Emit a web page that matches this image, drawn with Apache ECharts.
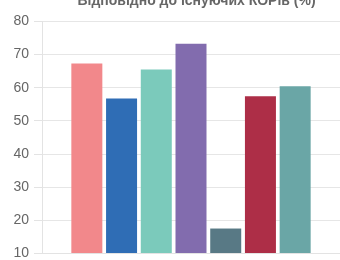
<!DOCTYPE html>
<html><head><meta charset="utf-8">
<script src="https://cdn.jsdelivr.net/npm/echarts@6/dist/echarts.min.js"></script>
<style>html,body{margin:0;padding:0;background:#fff}#c{width:340px;height:260px}</style>
</head><body><div id="c"></div>
<script>
const titleText = 'Відповідно до існуючих КОРів (%)';
const categories = [''];
const seriesNames = ['S1','S2','S3','S4','S5','S6','S7'];
const seriesValues = [67.3, 56.7, 65.5, 73.3, 17.4, 57.4, 60.4];
const seriesColors = ['#f2888b','#2f6db5','#7bcabb','#826cae','#587985','#ad2e47','#6aa6a6'];
const yTicks = {min: 10, max: 80, interval: 10};

const chart = echarts.init(document.getElementById('c'), null, {renderer:'canvas'});
chart.setOption({
  animation: false,
  title: {text: titleText, left: 191.5, textAlign: 'center', top: -11,
    textStyle: {fontFamily: 'Liberation Sans', fontSize: 14, fontWeight: 'bold', color: '#666'}},
  grid: {left: 42, right: -1, top: 21.5, bottom: 2, containLabel: false},
  xAxis: {type: 'category', data: categories,
    axisLine: {show: true, lineStyle: {color: '#e3e3e3'}}, axisTick: {show: false}, axisLabel: {show: false}},
  yAxis: {type: 'value', min: yTicks.min, max: yTicks.max, interval: yTicks.interval,
    axisLine: {show: true, lineStyle: {color: '#e3e3e3'}},
    axisTick: {show: true, length: 8, lineStyle: {color: '#e3e3e3'}},
    splitLine: {lineStyle: {color: '#e6e6e6'}},
    axisLabel: {margin: 13, color: '#666', fontSize: 14, fontFamily: 'Liberation Sans'}},
  series: seriesNames.map((n, i) => ({
    name: n, type: 'bar', data: [seriesValues[i]], barWidth: 31, barGap: '12%',
    itemStyle: {color: seriesColors[i]}
  }))
});
</script></body></html>
